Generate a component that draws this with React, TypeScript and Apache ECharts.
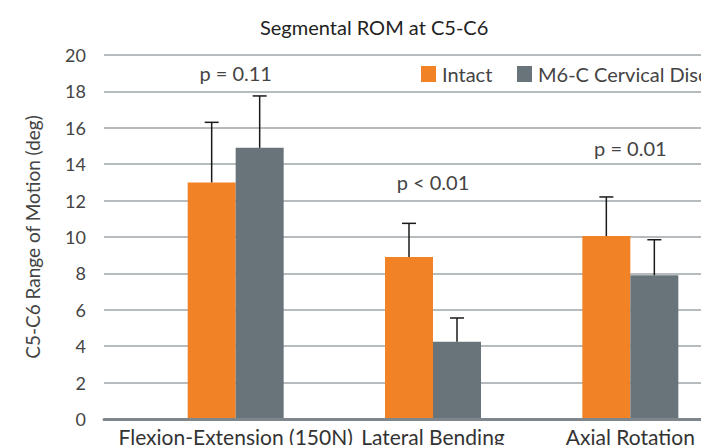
import React, { useEffect, useRef } from "react";
import * as echarts from "echarts";

const CATEGORIES = ["Flexion-Extension (150N)", "Lateral Bending", "Axial Rotation"];
const SERIES_NAMES = ["Intact", "M6-C Cervical Disc"];
const INTACT = [13.0, 8.9, 10.05];
const M6C = [14.9, 4.25, 7.9];
const INTACT_SD = [3.3, 1.85, 2.15];
const M6C_SD = [2.85, 1.3, 1.95];
const P_LABELS = ["p = 0.11", "p < 0.01", "p = 0.01"];
const P_LABEL_Y = [19.0, 13.0, 14.9];
const Y_MIN = 0;
const Y_MAX = 20;
const Y_INTERVAL = 2;

const COLORS = ["#F28226", "#69747A"];
const BAR_WIDTH = 48;
const FONT = "Lato";

export default function App() {
  const ref = useRef<HTMLDivElement>(null);

  useEffect(() => {
    if (!ref.current) return;
    const chart = echarts.init(ref.current, null, { renderer: "svg" });

    const errData: number[][] = [];
    INTACT.forEach((v, i) => errData.push([i, v, INTACT_SD[i], 0]));
    M6C.forEach((v, i) => errData.push([i, v, M6C_SD[i], 1]));

    const pData = P_LABEL_Y.map((y, i) => [i, y]);

    const legendBase = {
      top: 64,
      itemWidth: 15,
      itemHeight: 16,
      icon: "rect",
      padding: 0,
      textStyle: { fontFamily: FONT, fontSize: 20, color: "#444444", padding: [0, 0, 0, 1] },
    };

    const option: any = {
      animation: false,
      backgroundColor: "#ffffff",
      textStyle: { fontFamily: FONT },
      title: {
        text: "Segmental ROM at C5-C6",
        left: 255,
        top: 12,
        textStyle: { fontFamily: FONT, fontSize: 20, fontWeight: "normal", color: "#222222" },
      },
      legend: [
        { ...legendBase, data: [SERIES_NAMES[0]], left: 421 },
        { ...legendBase, data: [SERIES_NAMES[1]], left: 517 },
      ],
      grid: [
        { left: 104, width: 623, top: 55, bottom: 26, containLabel: false, outerBoundsMode: "none" },
        { left: 137, width: 592, top: 55, bottom: 26, containLabel: false, outerBoundsMode: "none" },
      ],
      xAxis: [
        {
          gridIndex: 0,
          type: "value",
          min: 0,
          max: 1,
          z: 5,
          axisLine: { show: true, onZero: false, lineStyle: { color: "#7f878c", width: 3 } },
          axisTick: { show: false },
          axisLabel: { show: false },
          splitLine: { show: false },
        },
        {
          gridIndex: 1,
          type: "category",
          data: CATEGORIES,
          axisLine: { show: false },
          axisTick: { show: false },
          axisLabel: { interval: 0, fontFamily: FONT, fontSize: 21, color: "#333333", margin: 7 },
        },
      ],
      yAxis: [
        {
          gridIndex: 0,
          type: "value",
          min: Y_MIN,
          max: Y_MAX,
          interval: Y_INTERVAL,
          name: "C5-C6 Range of Motion (deg)",
          nameLocation: "middle",
          nameGap: 62,
          nameRotate: 90,
          nameTextStyle: { fontFamily: FONT, fontSize: 19, color: "#444444" },
          axisLine: { show: false },
          axisTick: { show: false },
          axisLabel: { fontFamily: FONT, fontSize: 18, color: "#444444", margin: 18 },
          splitLine: { show: true, lineStyle: { color: "#9ea4a8", width: 1.5 } },
        },
        {
          gridIndex: 1,
          type: "value",
          min: Y_MIN,
          max: Y_MAX,
          interval: Y_INTERVAL,
          show: false,
          splitLine: { show: false },
        },
      ],
      series: [
        {
          name: SERIES_NAMES[0],
          type: "bar",
          xAxisIndex: 1,
          yAxisIndex: 1,
          data: INTACT,
          barWidth: BAR_WIDTH,
          barGap: "0%",
          itemStyle: { color: COLORS[0] },
        },
        {
          name: SERIES_NAMES[1],
          type: "bar",
          xAxisIndex: 1,
          yAxisIndex: 1,
          data: M6C,
          barWidth: BAR_WIDTH,
          barGap: "0%",
          itemStyle: { color: COLORS[1] },
        },
        {
          name: "errors",
          type: "custom",
          xAxisIndex: 1,
          yAxisIndex: 1,
          data: errData,
          encode: { x: 0, y: 1 },
          z: 4,
          renderItem: (params: any, api: any) => {
            const cat = api.value(0);
            const val = api.value(1);
            const sd = api.value(2);
            const s = api.value(3);
            const base = api.coord([cat, val]);
            const top = api.coord([cat, val + sd]);
            const x = base[0] + (s === 0 ? -1 : 1) * (BAR_WIDTH / 2);
            const style = { stroke: "#1a1a1a", lineWidth: 1.5 };
            return {
              type: "group",
              children: [
                { type: "line", shape: { x1: x, y1: base[1], x2: x, y2: top[1] }, style },
                { type: "line", shape: { x1: x - 7, y1: top[1], x2: x + 7, y2: top[1] }, style },
              ],
            };
          },
        },
        {
          name: "pvalues",
          type: "custom",
          xAxisIndex: 1,
          yAxisIndex: 1,
          data: pData,
          encode: { x: 0, y: 1 },
          z: 4,
          renderItem: (params: any, api: any) => {
            const p = api.coord([api.value(0), api.value(1)]);
            return {
              type: "text",
              x: p[0],
              y: p[1],
              style: {
                text: P_LABELS[params.dataIndex],
                fontFamily: FONT,
                fontSize: 20,
                fill: "#444444",
                align: "center",
                verticalAlign: "middle",
              },
            };
          },
        },
      ],
    };

    chart.setOption(option);
    return () => chart.dispose();
  }, []);

  return (
    <div
      ref={ref}
      style={{ position: "fixed", left: 0, top: 0, width: 701, height: 445, overflow: "hidden", background: "#fff" }}
    />
  );
}
